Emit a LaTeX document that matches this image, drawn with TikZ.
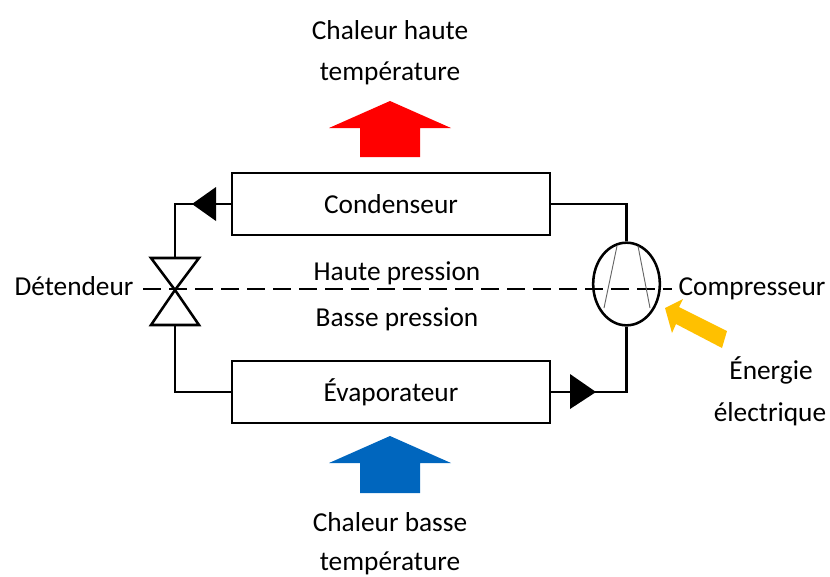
\documentclass[tikz,border=0pt]{standalone}
\usepackage{fontspec}
\setmainfont{Carlito}
\usetikzlibrary{shapes.geometric,calc}
\definecolor{hotred}{RGB}{255,0,0}
\definecolor{coldblue}{RGB}{0,102,190}
\definecolor{elecorange}{RGB}{255,192,0}
\tikzset{
  unit/.style={draw=black,line width=1.9pt,fill=white,inner sep=0pt,minimum width=238.5pt,minimum height=46.5pt,font=\fontsize{20.5}{24}\selectfont},
  pipe/.style={draw=black,line width=1.9pt},
  label/.style={inner sep=0pt,font=\fontsize{20.5}{24}\selectfont,text depth=0pt,anchor=base},
  tipfill/.style={fill=black,draw=none},
  valvepart/.style={draw=black,line width=1.9pt,line join=miter,fill=none},
  bigarrow/.style={draw=none},
  boundary/.style={draw=black,line width=1.6pt,dash pattern=on 13.5pt off 6pt},
  blade/.style={draw=black!60,line width=0.7pt}
}
\begin{document}
\begin{tikzpicture}[x=0.75pt,y=-0.75pt]
\useasboundingbox (0,0) rectangle (830,576);
% pressure boundary
\coordinate (dashL) at (143,289);
\coordinate (dashR) at (672,289);
\draw[boundary] (dashL) -- (dashR);
% units
\node[unit] (cond) at (391,204) {Condenseur};
\node[unit] (evap) at (391,392) {Évaporateur};
% compressor
\node[draw=black,line width=1.9pt,ellipse,minimum width=50pt,minimum height=62pt,inner sep=0pt] (comp) at (626.5,284) {};
\draw[blade] (617,246) -- (604,308);
\draw[blade] (638,246) -- (650,308);
% valve
\coordinate (valveC) at (175,290);
\coordinate (valveT) at (175,258);
\coordinate (valveB) at (175,325);
\draw[valvepart] (valveC) -- (151,258) -- (199,258) -- cycle;
\draw[valvepart] (valveC) -- (151,325) -- (199,325) -- cycle;
% pipes
\draw[pipe] (cond.west) -| (valveT);
\draw[pipe] (evap.west) -| (valveB);
\draw[pipe] (cond.east) -| (comp.north);
\draw[pipe] (evap.east) -| (comp.south);
% flow triangles
\fill[tipfill] (192,204) -- (216,187) -- (216,221) -- cycle;
\fill[tipfill] (596,392) -- (570,374) -- (570,409) -- cycle;
% big arrows
\fill[hotred,bigarrow] (390,101) -- (451,128) -- (420,128) -- (420,157) -- (360,157) -- (360,128) -- (329,128) -- cycle;
\fill[coldblue,bigarrow] (390,436) -- (451,463) -- (420,463) -- (420,493) -- (360,493) -- (360,463) -- (329,463) -- cycle;
\fill[elecorange,bigarrow] (665,308) -- (683,299) -- (679,307) -- (727,331) -- (722,348) -- (676,324) -- (672,333) -- cycle;
% labels
\node[label] (t1) at (390,39) {Chaleur haute};
\node[label] (t2) at (390,80) {température};
\node[label] (t3) at (74,295) {Détendeur};
\node[label] (t4) at (397,280) {Haute pression};
\node[label] (t5) at (397,326) {Basse pression};
\node[label] (t6) at (752,295) {Compresseur};
\node[label] (t7) at (771,379) {Énergie};
\node[label] (t8) at (770,421) {électrique};
\node[label] (t9) at (390,531) {Chaleur basse};
\node[label] (t10) at (390,570) {température};
\end{tikzpicture}
\end{document}
